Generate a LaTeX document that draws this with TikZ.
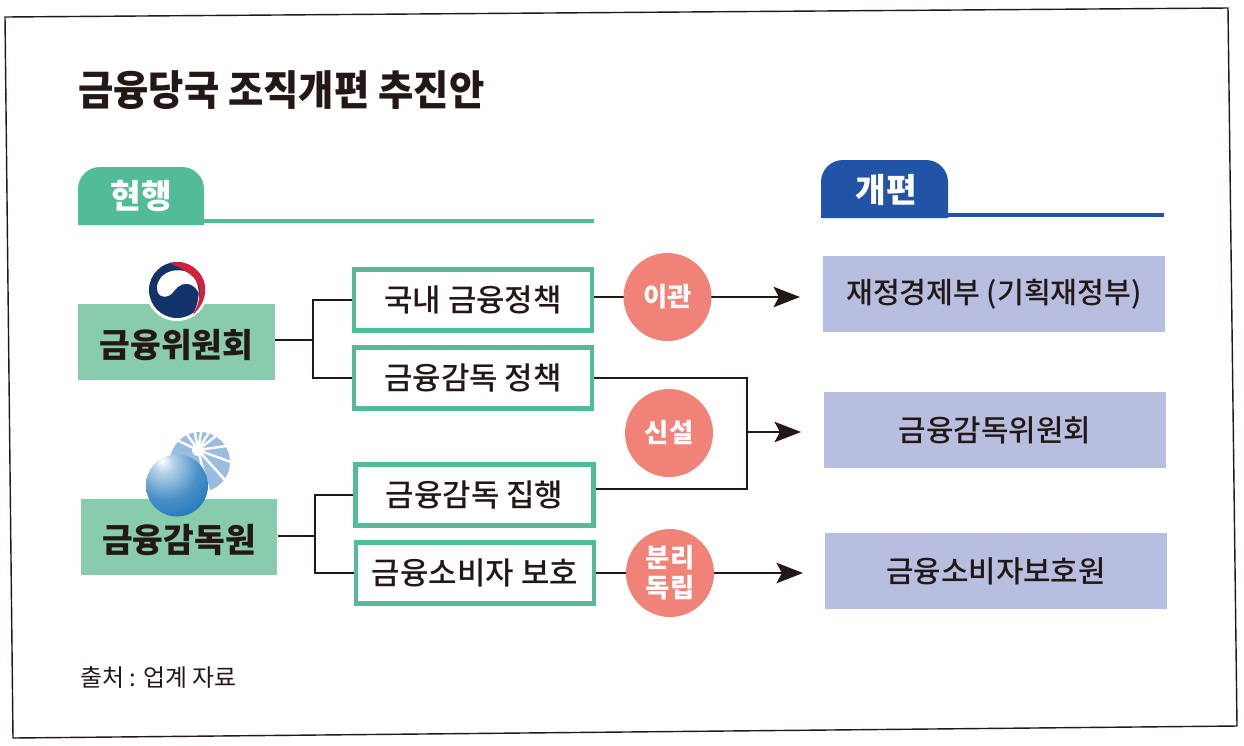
\documentclass[tikz,border=0pt]{standalone}
\usepackage{fontspec}
\setmainfont{Noto Sans CJK KR}
\newfontfamily\heavy[UprightFont=* Black]{Noto Sans CJK KR}
\newfontfamily\titlefont[UprightFont=* Black, FakeStretch=0.93]{Noto Sans CJK KR}
\newfontfamily\medium[UprightFont=* Medium]{Noto Sans CJK KR}
\usetikzlibrary{arrows.meta}
\definecolor{mint}{RGB}{137, 203, 173}
\definecolor{tabgreen}{RGB}{82, 187, 152}
\definecolor{tabblue}{RGB}{33, 83, 166}
\definecolor{lav}{RGB}{184, 190, 224}
\definecolor{salmon}{RGB}{241, 130, 120}
\definecolor{ink}{RGB}{35, 24, 21}
\definecolor{navy}{RGB}{18, 52, 104}
\definecolor{seal}{RGB}{215, 30, 60}
\definecolor{rays}{RGB}{155, 188, 226}
\definecolor{globe}{RGB}{14, 108, 180}
\pgfdeclareradialshading{globeshade}{\pgfpoint{-12bp}{20bp}}{color(0bp)=(white); color(8bp)=(globe!30!white); color(26bp)=(globe!75!white); color(48bp)=(globe); color(100bp)=(globe)}
\tikzset{
  orgbox/.style={fill=mint, minimum width=3.94cm, minimum height=1.52cm, text height=21pt, text depth=3.8pt, font=\fontsize{19}{19}\heavy, text=ink},
  taskbox/.style={draw=tabgreen, line width=2.4pt, fill=white, minimum width=4.76cm, minimum height=1.22cm, font=\fontsize{17.6}{18}\medium, text=ink},
  newbox/.style={fill=lav, minimum width=6.84cm, minimum height=1.52cm, font=\fontsize{17}{17}\medium, text=ink},
  badge/.style={circle, fill=salmon, minimum size=1.76cm, inner sep=0pt, align=center, text=white, font=\fontsize{15}{18}\selectfont\bfseries},
  tabtext/.style={text=white, font=\fontsize{19}{19}\selectfont\bfseries},
  link/.style={ink, line width=1.6pt},
  arrowlink/.style={link, -{Stealth[length=15pt,width=11.5pt,inset=3pt]}}
}

\begin{document}
\begin{tikzpicture}[x=0.02cm, y=-0.02cm]
\useasboundingbox (0,0) rectangle (1244,745);
\draw[ink, line width=0.8pt] (5,17) -- (1228,8) -- (1237,726) -- (13,738) -- cycle;

\node[anchor=west, font=\fontsize{23.5}{24}\titlefont, text=ink] (title) at (72,90) {금융당국 조직개편 추진안};

% tabs
\fill[tabgreen] (78,225) -- (78,189) to[out=90,in=180] (100,167) -- (182,167) to[out=0,in=90] (204,189) -- (204,225) -- cycle;
\fill[tabgreen] (204,219) rectangle (594,223);
\node[tabtext] (now) at (141,196) {현행};
\fill[tabblue] (821,218) -- (821,182) to[out=90,in=180] (843,160) -- (926,160) to[out=0,in=90] (948,182) -- (948,218) -- cycle;
\fill[tabblue] (948,213) rectangle (1164,217);
\node[tabtext] (after) at (886,190) {개편};

% left side
\node[orgbox] (fsc) at (176.5,342) {금융위원회};
\node[orgbox] (fss) at (179,537) {금융감독원};
\node[taskbox] (domestic) at (473,300) {국내 금융정책};
\node[taskbox] (policy) at (473,378) {금융감독 정책};
\node[taskbox] (enforce) at (474.5,495) {금융감독 집행};
\node[taskbox] (consumer) at (475,573) {금융소비자 보호};

% right side
\node[newbox, font=\fontsize{16.6}{17}\medium] (mosf) at (994,294) {재정경제부 (기획재정부)};
\node[newbox] (fsa) at (995,430) {금융감독위원회};
\node[newbox] (fcpa) at (996,571) {금융소비자보호원};

\coordinate (forkA) at (313,340);
\coordinate (forkB) at (315,536);
\coordinate (joinM) at (747,432);
\coordinate (joinL) at (747,489);
\coordinate (tipA) at (800,297);
\coordinate (tipB) at (801,432);
\coordinate (tipC) at (803,573);

\draw[link] (fsc.east |- forkA) -- (forkA);
\draw[link] (domestic.west) -| (forkA) |- (policy.west);
\draw[link] (fss.east |- forkB) -- (forkB);
\draw[link] (enforce.west) -| (forkB) |- (consumer.west);
\draw[link] (policy.east) -| (joinL) -- (enforce.east |- joinL);
\draw[arrowlink] (joinM) -- (tipB);
\draw[arrowlink] (domestic.east |- tipA) -- (tipA);
\draw[arrowlink] (consumer.east) -- (tipC);

\node[badge] (move) at (667.5,297) {이관};
\node[badge] (create) at (669,433) {신설};
\node[badge] (split) at (670,573) {분리\\[-1pt]독립};

% fsc logo
\fill[white] (177,290) circle (31);
\fill[navy] (177,290) circle (28);
\fill[white] (157,288) .. controls (157,272) and (180,264) .. (193,276) .. controls (202,288) and (199,302) .. (193,315) .. controls (201,303) and (202,292) .. (193,286) .. controls (186,281) and (178,285) .. (174,291) .. controls (169,299) and (157,299) .. (157,288) -- cycle;
\fill[seal] (170,263) .. controls (190,258) and (207,275) .. (205,292) .. controls (204,302) and (199,309) .. (193,315) .. controls (200,302) and (203,288) .. (195,279) .. controls (188,271) and (178,267) .. (170,263) -- cycle;

% fss logo
\fill[rays] (200,462) circle (30);
\begin{scope}
\clip (200,462) circle (31);
\foreach \a in {-155,-125,-100,-80,-58,-38,-8,20,48,75}
  \draw[white, line width=1.4pt] (198,450) -- ++(\a:50);
\fill[white] (198,450) circle (6);
\end{scope}
\shade[shading=globeshade] (177,485.5) circle (31);

\node[anchor=west, font=\fontsize{13.6}{14}\selectfont, text=ink] (source) at (74,677) {출처 : 업계 자료};
\end{tikzpicture}
\end{document}
